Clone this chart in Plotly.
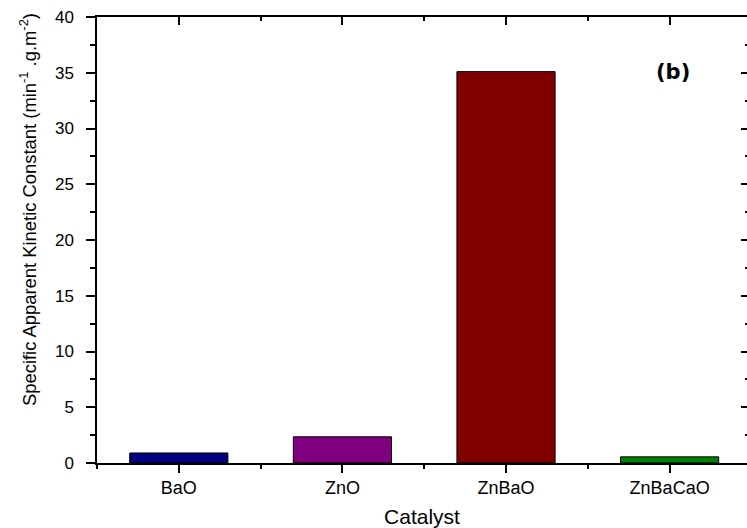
import plotly.graph_objects as go

categories = ["BaO", "ZnO", "ZnBaO", "ZnBaCaO"]
values = [0.9, 2.35, 35.1, 0.55]
colors = ["#000080", "#800080", "#800000", "#008000"]
y_ticks = [0, 5, 10, 15, 20, 25, 30, 35, 40]

xpos = list(range(len(categories)))
font_family = "Liberation Sans, Arial, sans-serif"

fig = go.Figure()
fig.add_trace(go.Bar(
    x=xpos, y=values, width=0.6,
    marker=dict(color=colors, line=dict(color="#000000", width=1)),
    showlegend=False, hoverinfo="skip",
))
# invisible trace to activate mirror axes
fig.add_trace(go.Scatter(x=[0], y=[0], xaxis="x2", yaxis="y2", mode="markers",
                         marker=dict(opacity=0), showlegend=False, hoverinfo="skip"))

xr = [-0.5, 3.473]
yr = [0, 40]

fig.update_layout(
    width=747, height=528,
    margin=dict(l=97, r=0, t=17, b=65),
    paper_bgcolor="white", plot_bgcolor="white",
    font=dict(family=font_family, color="#000000", size=17),
    xaxis=dict(
        range=xr, tickvals=xpos, ticktext=categories,
        showline=True, linecolor="#000000", linewidth=1.5,
        ticks="outside", ticklen=8, tickwidth=1.5, tickcolor="#000000",
        minor=dict(tickvals=[-0.5, 0.5, 1.5, 2.5, 3.5], ticks="outside", ticklen=4, tickwidth=1.5, tickcolor="#000000"),
        showgrid=False, zeroline=False,
        tickfont=dict(family=font_family, size=18),
        title=dict(text="Catalyst", font=dict(family=font_family, size=21), standoff=12),
    ),
    yaxis=dict(
        range=yr, tickvals=y_ticks,
        showline=True, linecolor="#000000", linewidth=1.5,
        ticks="outside", ticklen=9, tickwidth=1.5, tickcolor="#000000",
        minor=dict(dtick=2.5, ticks="outside", ticklen=5, tickwidth=1.5, tickcolor="#000000"),
        showgrid=False, zeroline=False,
        tickfont=dict(family=font_family, size=17),
        ticklabelstandoff=9,
    ),
    xaxis2=dict(
        range=xr, overlaying="x", side="top", anchor="y",
        tickvals=xpos, showticklabels=False,
        showline=True, linecolor="#000000", linewidth=1.5,
        ticks="inside", ticklen=8, tickwidth=1.5, tickcolor="#000000",
        minor=dict(tickvals=[0.5, 1.5, 2.5], ticks="inside", ticklen=4, tickwidth=1.5, tickcolor="#000000"),
        showgrid=False, zeroline=False,
    ),
    yaxis2=dict(
        range=yr, overlaying="y", side="right", anchor="x",
        tickvals=y_ticks, showticklabels=False, showline=False,
        ticks="inside", ticklen=6, tickwidth=1.5, tickcolor="#000000",
        minor=dict(dtick=2.5, ticks="inside", ticklen=2, tickwidth=1.5, tickcolor="#000000"),
        showgrid=False, zeroline=False,
    ),
    annotations=[
        dict(
            text="<b>(b)</b>", x=3.02, y=35.1, xref="x", yref="y",
            showarrow=False, font=dict(family="DejaVu Sans, sans-serif", size=21, color="#000000"),
            xanchor="center", yanchor="middle",
        ),
        dict(
            text="Specific Apparent Kinetic Constant (min<sup>-1</sup> .g.m<sup>-2</sup>)",
            x=(28 - 97) / 650, y=(463 - 210) / 446, xref="paper", yref="paper",
            textangle=-90, showarrow=False,
            font=dict(family=font_family, size=18.4, color="#000000"),
            xanchor="center", yanchor="middle",
        ),
    ],
)

fig.write_html("out.html")
